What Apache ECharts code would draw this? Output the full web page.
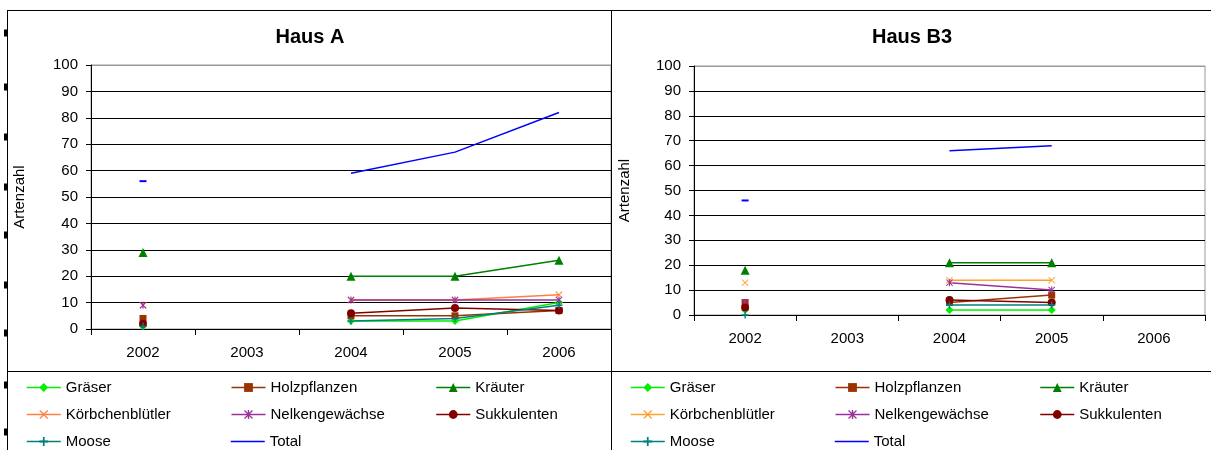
<!DOCTYPE html>
<html>
<head>
<meta charset="utf-8">
<script src="https://cdn.jsdelivr.net/npm/echarts@6/dist/echarts.min.js"></script>
<style>
  html, body { margin: 0; padding: 0; background: #fff; }
  #chart { width: 1211px; height: 450px; }
</style>
</head>
<body>
<div id="chart"></div>
<script>
// Jahre (Kategorien) und Achsenbereich
const years = ['2002', '2003', '2004', '2005', '2006'];
const yMin = 0, yMax = 100, yStep = 10;

const seriesNames = ['Gräser', 'Holzpflanzen', 'Kräuter', 'Körbchenblütler',
                     'Nelkengewächse', 'Sukkulenten', 'Moose', 'Total'];

// Haus A – Artenzahl pro Gruppe
const hausA_graeser      = [1, null, 3, 3, 10];
const hausA_holz         = [4, null, 5, 5, 7];
const hausA_kraeuter     = [29, null, 20, 20, 26];
const hausA_koerbchen    = [9, null, 11, 11, 13];
const hausA_nelken       = [9, null, 11, 11, 11];
const hausA_sukkulenten  = [2, null, 6, 8, 7];
const hausA_moose        = [1, null, 3, 4, 9];
const hausA_total        = [56, null, 59, 67, 82];

// Haus B3 – Artenzahl pro Gruppe
const hausB_graeser      = [2, null, 2, 2, null];
const hausB_holz         = [5, null, 5, 8, null];
const hausB_kraeuter     = [18, null, 21, 21, null];
const hausB_koerbchen    = [13, null, 14, 14, null];
const hausB_nelken       = [5, null, 13, 10, null];
const hausB_sukkulenten  = [3, null, 6, 5, null];
const hausB_moose        = [0, null, 4, 4, null];
const hausB_total        = [46, null, 66, 68, null];

const FONT = 'Liberation Sans';

// Marker-Formen
const SYM_X = 'path://M1,0L5,4L9,0L10,1L6,5L10,9L9,10L5,6L1,10L0,9L4,5L0,1Z';
const SYM_STAR = 'path://M1,0L5,4L9,0L10,1L6,5L10,9L9,10L5,6L1,10L0,9L4,5L0,1Z M4.2,0L5.8,0L5.8,10L4.2,10Z';
const SYM_PLUS = 'path://M4,0L6,0L6,4L10,4L10,6L6,6L6,10L4,10L4,6L0,6L0,4L4,4Z';

const styleA = {
  'Gräser':          { color: '#00EE00', symbol: 'diamond', size: 8 },
  'Holzpflanzen':    { color: '#993300', symbol: 'rect', size: 7 },
  'Kräuter':         { color: '#008000', symbol: 'triangle', size: 9 },
  'Körbchenblütler': { color: '#FF8040', symbol: SYM_X, size: 7 },
  'Nelkengewächse':  { color: '#993399', symbol: SYM_STAR, size: 7 },
  'Sukkulenten':     { color: '#800000', symbol: 'circle', size: 8 },
  'Moose':           { color: '#008080', symbol: SYM_PLUS, size: 7 },
  'Total':           { color: '#0000FF', symbol: 'none', size: 0 }
};
const styleB = Object.assign({}, styleA, {
  'Körbchenblütler': { color: '#FFA030', symbol: SYM_X, size: 7 }
});

const dataA = [hausA_graeser, hausA_holz, hausA_kraeuter, hausA_koerbchen,
               hausA_nelken, hausA_sukkulenten, hausA_moose, hausA_total];
const dataB = [hausB_graeser, hausB_holz, hausB_kraeuter, hausB_koerbchen,
               hausB_nelken, hausB_sukkulenten, hausB_moose, hausB_total];

// Linien ohne Marker: ein einzeln stehender Wert wird als kurzer Strich gezeigt
function withIsolatedDash(values, style) {
  if (style.symbol !== 'none') return values;
  return values.map((v, i) => {
    const prev = i > 0 ? values[i - 1] : null;
    const next = i < values.length - 1 ? values[i + 1] : null;
    if (v != null && prev == null && next == null) {
      return { value: v, symbol: 'rect', symbolSize: [7, 2] };
    }
    return v;
  });
}

function buildSeries(data, styles, axisIndex) {
  return seriesNames.map((name, i) => {
    const s = styles[name];
    return {
      name: name,
      type: 'line',
      xAxisIndex: axisIndex,
      yAxisIndex: axisIndex,
      data: withIsolatedDash(data[i], s),
      symbol: s.symbol,
      symbolSize: s.size,
      showSymbol: true,
      showAllSymbol: true,
      connectNulls: false,
      animation: false,
      color: s.color,
      itemStyle: { color: s.color },
      lineStyle: { color: s.color, width: 1.5 },
      emphasis: { disabled: true }
    };
  });
}

function xAxisDef(gridIndex) {
  return {
    type: 'category',
    gridIndex: gridIndex,
    data: years,
    boundaryGap: true,
    axisLine: { lineStyle: { color: '#000', width: 1 } },
    axisTick: { show: true, length: 6, lineStyle: { color: '#000' } },
    axisLabel: { color: '#000', fontFamily: FONT, fontSize: 15, margin: 16 },
    splitLine: { show: false }
  };
}

function yAxisDef(gridIndex, nameGap) {
  const splitColors = [];
  for (let v = yMin; v <= yMax; v += yStep) splitColors.push(v === yMax ? '#999999' : '#000000');
  return {
    type: 'value',
    gridIndex: gridIndex,
    min: yMin, max: yMax, interval: yStep,
    name: 'Artenzahl',
    nameLocation: 'middle',
    nameGap: nameGap,
    nameTextStyle: { color: '#000', fontFamily: FONT, fontSize: 15 },
    axisLine: { show: true, lineStyle: { color: '#000', width: 1 } },
    axisTick: { show: true, length: 5, lineStyle: { color: '#000' } },
    axisLabel: { color: '#000', fontFamily: FONT, fontSize: 15, margin: 13 },
    splitLine: { show: true, lineStyle: { color: splitColors, width: 1 } }
  };
}

function legendDef(left, styles) {
  return {
    left: left, top: 379, width: 612,
    padding: 0,
    itemWidth: 34, itemHeight: 11, itemGap: 10,
    selectedMode: false,
    textStyle: { color: '#000', fontFamily: FONT, fontSize: 15, width: 155, lineHeight: 17 },
    data: seriesNames.map(n => {
      const item = {
        name: n,
        itemStyle: { color: styles[n].color },
        lineStyle: { color: styles[n].color, width: 1.5 }
      };
      if (styles[n].symbol === 'none') {
        item.icon = 'path://M0,0L34,0L34,1.5L0,1.5Z';
        item.itemStyle = { color: styles[n].color };
      }
      return item;
    })
  };
}

// Rahmen der beiden Diagrammblöcke
const frameLines = [
  [7, 10.5, 1211, 10.5],
  [7.5, 10, 7.5, 450],
  [611.5, 10, 611.5, 450],
  [7, 371.5, 1211, 371.5]
].map(p => ({
  type: 'line', silent: true,
  shape: { x1: p[0], y1: p[1], x2: p[2], y2: p[3] },
  style: { stroke: '#000', lineWidth: 1 }
}));

const handleYs = [33, 87, 137, 187, 235, 285, 333, 385, 432];
const handles = handleYs.map(y => ({
  type: 'rect', silent: true,
  shape: { x: 4, y: y - 3.5, width: 4, height: 7 },
  style: { fill: '#000' }
}));

const chart = echarts.init(document.getElementById('chart'), null, { renderer: 'canvas' });
chart.setOption({
  backgroundColor: '#ffffff',
  animation: false,
  title: [
    { text: 'Haus A', left: 310, textAlign: 'center', top: 27, padding: 0,
      textStyle: { fontFamily: FONT, fontSize: 20, fontWeight: 'bold', color: '#000' } },
    { text: 'Haus B3', left: 912, textAlign: 'center', top: 27, padding: 0,
      textStyle: { fontFamily: FONT, fontSize: 20, fontWeight: 'bold', color: '#000' } }
  ],
  grid: [
    { left: 91, top: 65, width: 520, height: 264, show: true, borderColor: '#999', borderWidth: 1, backgroundColor: 'transparent' },
    { left: 694, top: 66, width: 511, height: 249, show: true, borderColor: '#999', borderWidth: 1, backgroundColor: 'transparent' }
  ],
  xAxis: [xAxisDef(0), xAxisDef(1)],
  yAxis: [yAxisDef(0, 64), yAxisDef(1, 62)],
  legend: [legendDef(26, styleA), legendDef(630, styleB)],
  tooltip: { show: false },
  series: buildSeries(dataA, styleA, 0).concat(buildSeries(dataB, styleB, 1)),
  graphic: frameLines.concat(handles)
});
</script>
</body>
</html>
